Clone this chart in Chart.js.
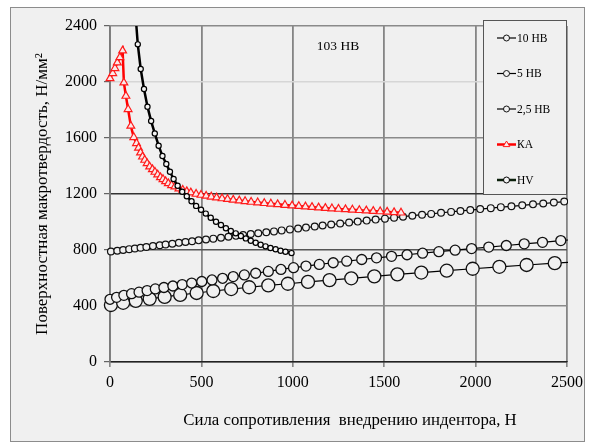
<!DOCTYPE html>
<html>
<head>
<meta charset="utf-8">
<script src="https://cdn.jsdelivr.net/npm/chart.js"></script>
<style>
  html, body { margin: 0; padding: 0; background: #fff; }
  #wrap { position: relative; width: 589px; height: 445px; }
</style>
</head>
<body>
<div id="wrap"><canvas id="hardnessChart" width="589" height="445"></canvas></div>
<script>
// values (force in N, hardness in N/mm2)
const hb10X = [5, 72, 141, 217, 299, 384, 474, 565, 663, 761, 866, 973, 1083, 1201, 1320, 1446, 1572, 1703, 1842, 1984, 2130, 2279, 2433, 2590];
const hb10Y = [407, 423, 437, 451, 465, 479, 493, 507, 521, 534, 547, 559, 572, 585, 598, 612, 626, 639, 652, 666, 680, 693, 706, 719];

const hb5X = [0, 36, 76, 118, 159, 203, 248, 295, 344, 395, 447, 502, 558, 616, 674, 735, 797, 866, 935, 1004, 1072, 1145, 1221, 1295, 1377, 1458, 1540, 1625, 1710, 1799, 1888, 1978, 2072, 2168, 2266, 2366, 2466, 2566];
const hb5Y = [448, 462, 476, 488, 499, 510, 522, 532, 543, 553, 564, 575, 586, 598, 610, 622, 634, 647, 661, 674, 685, 697, 709, 720, 732, 744, 755, 766, 777, 788, 799, 810, 821, 832, 844, 855, 867, 878];

const hb25X = [5, 40, 72, 105, 136, 167, 199, 235, 272, 304, 341, 377, 413, 449, 485, 525, 565, 607, 648, 689, 728, 770, 811, 855, 897, 939, 984, 1029, 1072, 1120, 1163, 1210, 1259, 1308, 1355, 1404, 1453, 1504, 1554, 1603, 1654, 1707, 1757, 1811, 1866, 1917, 1971, 2025, 2083, 2138, 2196, 2255, 2314, 2370, 2428, 2485];
const hb25Y = [789, 795, 800, 806, 811, 816, 821, 828, 834, 839, 845, 851, 857, 862, 869, 875, 881, 888, 895, 901, 907, 914, 920, 927, 933, 940, 947, 954, 960, 968, 975, 982, 989, 996, 1003, 1010, 1017, 1024, 1031, 1038, 1045, 1052, 1058, 1066, 1072, 1079, 1085, 1092, 1099, 1106, 1112, 1119, 1126, 1132, 1139, 1146];

const kaX = [0, 15, 27, 40, 54, 69, 76, 87, 99, 114, 130, 145, 156, 167, 178, 190, 203, 217, 232, 246, 261, 276, 290, 304, 319, 337, 355, 377, 398, 420, 442, 471, 498, 526, 554, 583, 613, 643, 674, 707, 739, 772, 808, 844, 880, 917, 957, 996, 1033, 1069, 1105, 1141, 1178, 1214, 1250, 1288, 1326, 1364, 1402, 1440, 1478, 1516, 1554, 1592];
const kaY = [2026, 2062, 2098, 2138, 2176, 2224, 1995, 1900, 1805, 1686, 1605, 1562, 1529, 1495, 1466, 1443, 1419, 1395, 1376, 1357, 1338, 1319, 1305, 1290, 1276, 1262, 1252, 1238, 1229, 1219, 1210, 1200, 1193, 1186, 1180, 1174, 1168, 1163, 1158, 1153, 1148, 1143, 1139, 1134, 1130, 1126, 1121, 1117, 1113, 1110, 1106, 1103, 1099, 1096, 1093, 1090, 1087, 1084, 1081, 1078, 1075, 1072, 1069, 1066];

const hvX = [135, 152, 168, 186, 205, 225, 245, 266, 287, 308, 328, 348, 370, 395, 420, 446, 471, 498, 524, 551, 580, 607, 634, 661, 688, 716, 743, 770, 797, 824, 851, 878, 906, 933, 960, 993];
const hvY = [2560, 2269, 2093, 1950, 1824, 1721, 1633, 1545, 1471, 1414, 1359, 1307, 1259, 1216, 1184, 1148, 1115, 1088, 1060, 1030, 1002, 979, 955, 936, 919, 900, 883, 866, 852, 838, 826, 814, 805, 795, 788, 778];

const seriesLabels = ['10 НВ', '5 НВ', '2,5 НВ', 'КА', 'HV'];
const xTicks = [0, 500, 1000, 1500, 2000, 2500];
const yTicks = [0, 400, 800, 1200, 1600, 2000, 2400];
const chartTitle = '103 НВ';
const xTitle = 'Сила сопротивления  внедрению индентора, Н';
const yTitle = 'Поверхностная макротвердость, Н/мм²';

const SERIF = '"Liberation Serif", "Times New Roman", serif';
const BG = '#f0f0f0';

const toPoints = (xs, ys) => xs.map((x, i) => ({ x: x, y: ys[i] }));
const clipBox = { left: 10, top: 0, right: 1, bottom: 10 };

// light gray frame behind everything
const framePlugin = {
    id: 'frame',
    beforeDraw(chart) {
        const ctx = chart.ctx;
        ctx.save();
        ctx.fillStyle = '#fff';
        ctx.fillRect(0, 0, chart.width, chart.height);
        ctx.fillStyle = BG;
        ctx.fillRect(10, 7, 574, 434);
        ctx.strokeStyle = '#8c8c8c';
        ctx.lineWidth = 1;
        ctx.strokeRect(10.5, 7.5, 574, 434);
        ctx.restore();
    }
};

function drawMarker(ctx, ds, x, y, r) {
    ctx.beginPath();
    if (ds.pointStyle === 'triangle') {
        ctx.moveTo(x, y - r);
        ctx.lineTo(x + r * 0.95, y + r * 0.6);
        ctx.lineTo(x - r * 0.95, y + r * 0.6);
        ctx.closePath();
    } else {
        ctx.arc(x, y, r, 0, Math.PI * 2);
    }
    ctx.fillStyle = ds.pointBackgroundColor;
    ctx.fill();
    ctx.lineWidth = 1;
    ctx.strokeStyle = ds.pointBorderColor;
    ctx.stroke();
}

// title inside the plot, the boxed legend and the x axis title
const overlayPlugin = {
    id: 'overlay',
    afterDraw(chart) {
        const ctx = chart.ctx;
        ctx.save();
        ctx.fillStyle = '#000';
        ctx.font = '13.5px ' + SERIF;
        ctx.textAlign = 'center';
        ctx.textBaseline = 'middle';
        ctx.fillText(chartTitle, 338, 46);

        ctx.font = '16.8px ' + SERIF;
        ctx.fillText(xTitle, 350, 421);

        ctx.fillStyle = BG;
        ctx.fillRect(483, 20, 83, 174);
        ctx.strokeStyle = '#555';
        ctx.lineWidth = 1;
        ctx.strokeRect(483.5, 20.5, 83, 174);

        chart.data.datasets.forEach((ds, i) => {
            const y = 38 + i * 35.5;
            ctx.beginPath();
            ctx.moveTo(497, y);
            ctx.lineTo(516, y);
            ctx.strokeStyle = ds.legendLine || ds.borderColor;
            ctx.lineWidth = ds.borderWidth;
            ctx.stroke();
            drawMarker(ctx, ds, 506.5, y, ds.pointStyle === 'triangle' ? 3.5 : 3);
            ctx.fillStyle = '#000';
            ctx.font = '11.5px ' + SERIF;
            ctx.textAlign = 'left';
            ctx.fillText(ds.label, 517, y + 0.5);
        });
        ctx.restore();
    }
};

const yGridColors = { 0: '#222', 400: '#8a8a8a', 800: '#555', 1200: '#333', 1600: '#8a8a8a', 2000: '#d6d6d6', 2400: '#8a8a8a' };

const ctx = document.getElementById('hardnessChart').getContext('2d');
new Chart(ctx, {
    type: 'scatter',
    data: {
        datasets: [
            {
                label: seriesLabels[0],
                data: toPoints(hb10X, hb10Y),
                showLine: true,
                borderColor: '#000',
                borderWidth: 1.2,
                pointStyle: 'circle',
                pointRadius: 6.5,
                pointBorderWidth: 1.3,
                pointBorderColor: '#111',
                pointBackgroundColor: BG,
                clip: clipBox,
                order: 4
            },
            {
                label: seriesLabels[1],
                data: toPoints(hb5X, hb5Y),
                showLine: true,
                borderColor: '#000',
                borderWidth: 1.2,
                pointStyle: 'circle',
                pointRadius: 5,
                pointBorderWidth: 1.3,
                pointBorderColor: '#111',
                pointBackgroundColor: BG,
                clip: clipBox,
                order: 3
            },
            {
                label: seriesLabels[2],
                data: toPoints(hb25X, hb25Y),
                showLine: true,
                borderColor: '#000',
                borderWidth: 1.2,
                pointStyle: 'circle',
                pointRadius: 3.4,
                pointBorderWidth: 1.2,
                pointBorderColor: '#111',
                pointBackgroundColor: BG,
                clip: clipBox,
                order: 2
            },
            {
                label: seriesLabels[3],
                data: toPoints(kaX, kaY),
                showLine: true,
                borderColor: '#ff0000',
                borderWidth: 2.5,
                pointStyle: 'triangle',
                pointRadius: 4.5,
                pointBorderWidth: 1.2,
                pointBorderColor: '#ff1a1a',
                pointBackgroundColor: '#fbe9e9',
                clip: clipBox,
                order: 1
            },
            {
                label: seriesLabels[4],
                data: toPoints(hvX, hvY),
                showLine: true,
                borderColor: '#000',
                legendLine: '#0b1f0b',
                borderWidth: 2.5,
                pointStyle: 'circle',
                pointRadius: 2.6,
                pointBorderWidth: 1.2,
                pointBorderColor: '#000',
                pointBackgroundColor: '#f4f4f4',
                clip: clipBox,
                order: 0
            }
        ]
    },
    options: {
        responsive: false,
        animation: false,
        devicePixelRatio: 1,
        font: { family: SERIF },
        layout: { padding: { left: 0, top: 26, right: 19, bottom: 0 } },
        plugins: {
            legend: { display: false },
            tooltip: { enabled: false }
        },
        scales: {
            x: {
                type: 'linear',
                min: 0,
                max: 2500,
                afterBuildTicks: scale => { scale.ticks = xTicks.map(v => ({ value: v })); },
                afterFit: scale => { scale.height = 83; },
                ticks: {
                    color: '#000',
                    font: { family: SERIF, size: 16 },
                    padding: 6,
                    maxRotation: 0,
                    callback: v => String(v)
                },
                grid: {
                    color: '#858585',
                    lineWidth: 1.8,
                    tickLength: 5,
                    tickColor: '#444',
                    tickWidth: 1
                },
                border: { color: '#222', width: 1.3 }
            },
            y: {
                type: 'linear',
                min: 0,
                max: 2400,
                afterBuildTicks: scale => { scale.ticks = yTicks.map(v => ({ value: v })); },
                afterFit: scale => { scale.width = 110; },
                ticks: {
                    color: '#000',
                    font: { family: SERIF, size: 16 },
                    padding: 7,
                    callback: v => String(v)
                },
                grid: {
                    color: c => (c.tick && yGridColors[c.tick.value]) || '#8a8a8a',
                    lineWidth: 1.4,
                    tickLength: 6,
                    tickColor: '#444',
                    tickWidth: 1
                },
                border: { color: '#7a7a7a', width: 1.8 },
                title: {
                    display: true,
                    text: yTitle,
                    color: '#000',
                    font: { family: SERIF, size: 17 },
                    padding: { top: 32, bottom: 0 }
                }
            }
        }
    },
    plugins: [framePlugin, overlayPlugin]
});
</script>
</body>
</html>
